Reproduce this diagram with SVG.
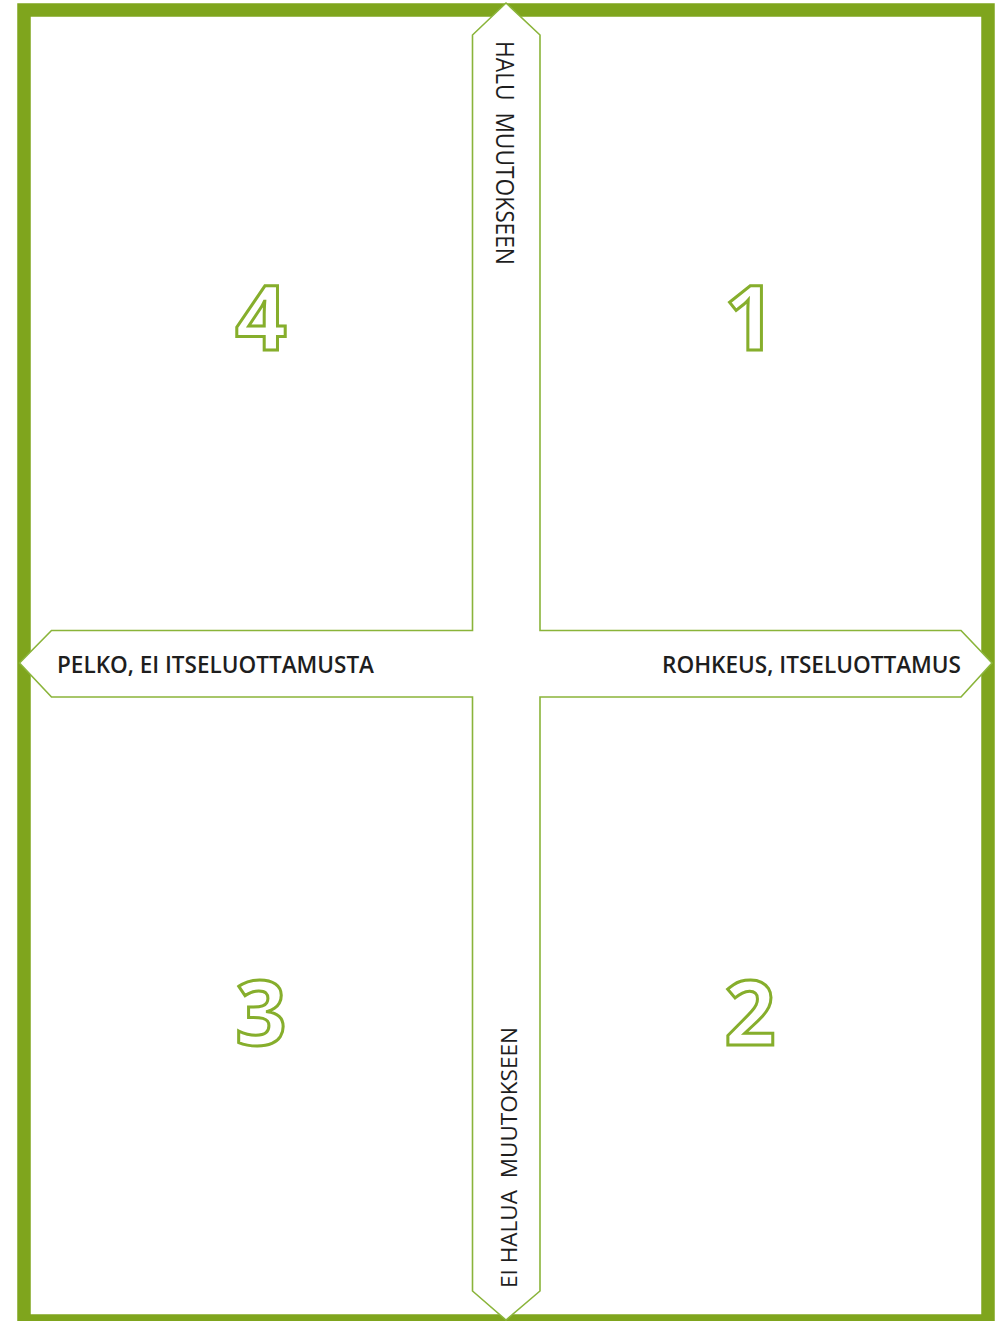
<svg xmlns="http://www.w3.org/2000/svg" width="1000" height="1321" viewBox="0 0 1000 1321">
  <style>
    .frame { fill: #ffffff; stroke: #7fa51d; stroke-width: 13.5; }
    .axis { fill: #ffffff; stroke: #8ab43a; stroke-width: 1.6; stroke-linejoin: miter; }
    .lbl { font-family: "Open Sans", "Liberation Sans", sans-serif; font-weight: 600; fill: #1e1e1e; white-space: pre; }
    .vlbl { font-weight: 400; }
    .num { font-family: "Open Sans", "Liberation Sans", sans-serif; font-weight: 700; font-size: 90px; fill: #ffffff; stroke: #86ae2c; stroke-width: 3; text-anchor: middle; }
  </style>
  <rect width="1000" height="1321" fill="#ffffff"/>
  <g id="frame">
    <rect class="frame" x="24" y="10" width="964" height="1311"/>
  </g>
  <g id="connectors">
    <path class="axis" d="M506,3 L540,35 L540,630.5 L961,630.5 L992,663 L961,697 L540,697 L540,1291 L506,1320 L472.5,1291 L472.5,697 L51.5,697 L19.5,663 L51.5,630.5 L472.5,630.5 L472.5,35 Z"/>
  </g>
  <g id="label-top">
    <text class="lbl vlbl" xml:space="preserve" font-size="26" transform="translate(495.5,41) rotate(90)" textLength="224" lengthAdjust="spacingAndGlyphs">HALU  MUUTOKSEEN</text>
  </g>
  <g id="label-bottom">
    <text class="lbl vlbl" xml:space="preserve" font-size="22" transform="translate(516.5,1288) rotate(-90)" textLength="261" lengthAdjust="spacingAndGlyphs">EI HALUA  MUUTOKSEEN</text>
  </g>
  <g id="label-left">
    <text class="lbl" font-size="24" x="57" y="673.3" textLength="317" lengthAdjust="spacingAndGlyphs">PELKO, EI ITSELUOTTAMUSTA</text>
  </g>
  <g id="label-right">
    <text class="lbl" font-size="24" x="662" y="673.3" textLength="299" lengthAdjust="spacingAndGlyphs">ROHKEUS, ITSELUOTTAMUS</text>
  </g>
  <g id="q4"><text class="num" x="261" y="349.5">4</text></g>
  <g id="q1"><text class="num" x="750" y="349.5">1</text></g>
  <g id="q3"><text class="num" x="261" y="1044.5">3</text></g>
  <g id="q2"><text class="num" x="750" y="1044.5">2</text></g>
</svg>
